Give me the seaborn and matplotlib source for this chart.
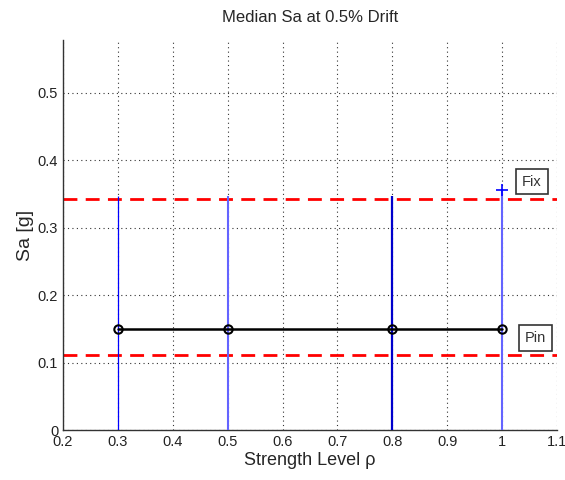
import matplotlib
matplotlib.use("Agg")
import matplotlib.pyplot as plt
import seaborn as sns
import pandas as pd

sns.set_style("white")
plt.rcParams['font.family'] = ['Liberation Sans', 'DejaVu Sans']

# Strength levels and median Sa at 0.5% drift
strength = [0.3, 0.5, 0.8, 1.0]
median_sa = [0.15, 0.15, 0.15, 0.15]
# upper end of the spread at each strength level
spread_top = [0.346, 0.346, 0.346, 0.355]
spread_width = [0.9, 1.5, 1.6, 1.5]
spread_color = ["#0000ff", "#6464ff", "#0000cc", "#6464ff"]
# reference levels for the fixed and pinned cases
fix_level = 0.343
pin_level = 0.111

xticks = [0.2, 0.3, 0.4, 0.5, 0.6, 0.7, 0.8, 0.9, 1.0, 1.1]
xticklabels = ["0.2", "0.3", "0.4", "0.5", "0.6", "0.7", "0.8", "0.9", "1", "1.1"]
yticks = [0, 0.1, 0.2, 0.3, 0.4, 0.5]
yticklabels = ["0", "0.1", "0.2", "0.3", "0.4", "0.5"]

fig = plt.figure(figsize=(5.65, 4.8), dpi=100)
ax = fig.add_axes([0.1115, 0.104, 0.8745, 0.813])

for x, top, lw, c in zip(strength, spread_top, spread_width, spread_color):
    ax.vlines(x, 0, top, color=c, lw=lw, zorder=3)
ax.plot([strength[-1]], [spread_top[-1]], marker="+", color="#0000ff",
        ms=9, mew=1.2, zorder=4)

ax.axhline(fix_level, color="#ff0000", ls=(0, (5, 3)), lw=2, zorder=2)
ax.axhline(pin_level, color="#ff0000", ls=(0, (5, 3)), lw=2, zorder=2)

df = pd.DataFrame({"strength": strength, "sa": median_sa})
sns.lineplot(data=df, x="strength", y="sa", ax=ax, color="black", lw=1.8,
             marker="o", markersize=6, markerfacecolor="none",
             markeredgecolor="black", markeredgewidth=1.5, zorder=5)

ax.set_xlim(0.2, 1.1)
ax.set_ylim(0, 0.578)
ax.set_xticks(xticks)
ax.set_xticklabels(xticklabels)
ax.set_yticks(yticks)
ax.set_yticklabels(yticklabels)
ax.tick_params(direction="in", length=4, labelsize=10.5, colors="#333333",
               labelcolor="#222222")
ax.grid(True, ls=(0, (1, 3)), color="#333333", lw=0.8)

for side in ["top", "right"]:
    ax.spines[side].set_visible(False)
for side in ["left", "bottom"]:
    ax.spines[side].set_color("#333333")
    ax.spines[side].set_linewidth(1.0)

ax.set_title("Median Sa at 0.5% Drift", fontsize=12, pad=13)
ax.set_xlabel("Strength Level \u03c1", fontsize=13, labelpad=2)
ax.set_ylabel("Sa [g]", fontsize=14, labelpad=3)

box = dict(boxstyle="square,pad=0.4", fc="white", ec="#333333", lw=1.2)
ax.text(1.054, 0.368, "Fix", fontsize=10.5, color="#333333", ha="center",
        va="center", bbox=box, zorder=6)
ax.text(1.060, 0.1365, "Pin", fontsize=10.5, color="#333333", ha="center",
        va="center", bbox=box, zorder=6)

fig.savefig("out.png", dpi=100)
